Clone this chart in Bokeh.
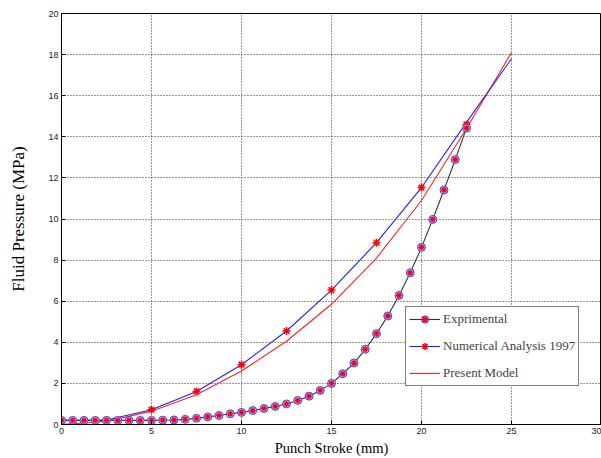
from bokeh.plotting import figure
from bokeh.models import Range1d, FixedTicker, Legend, LegendItem
from bokeh.embed import file_html
from bokeh.resources import INLINE

# Experimental data
exp_x = [0.0, 0.625, 1.25, 1.875, 2.5, 3.125, 3.75, 4.375, 5.0, 5.625, 6.25, 6.875,
         7.5, 8.125, 8.75, 9.375, 10.0, 10.625, 11.25, 11.875, 12.5, 13.125, 13.75,
         14.375, 15.0, 15.625, 16.25, 16.875, 17.5, 18.125, 18.75, 19.375, 20.0,
         20.625, 21.25, 21.875, 22.5]
exp_y = [0.20, 0.20, 0.20, 0.20, 0.20, 0.20, 0.20, 0.20, 0.20, 0.21, 0.22, 0.25,
         0.30, 0.37, 0.44, 0.52, 0.59, 0.68, 0.78, 0.88, 1.00, 1.17, 1.38,
         1.66, 2.00, 2.47, 2.99, 3.66, 4.42, 5.28, 6.28, 7.38, 8.62,
         9.98, 11.41, 12.89, 14.42]

# Numerical Analysis 1997 (markers) and its curve
num_x = [0.0, 2.5, 5.0, 7.5, 10.0, 12.5, 15.0, 17.5, 20.0, 22.5]
num_y = [0.20, 0.22, 0.72, 1.61, 2.91, 4.55, 6.54, 8.85, 11.53, 14.6]
num_curve_x = [0.0, 2.5, 5.0, 7.5, 10.0, 12.5, 15.0, 17.5, 20.0, 22.5, 25.0]
num_curve_y = [0.20, 0.22, 0.72, 1.61, 2.91, 4.55, 6.54, 8.85, 11.53, 14.7, 17.8]

# Present Model
mod_x = [0.0, 2.5, 5.0, 7.5, 10.0, 12.5, 15.0, 17.5, 20.0, 22.5, 25.0]
mod_y = [0.0, 0.15, 0.65, 1.45, 2.6, 4.05, 5.85, 8.1, 10.9, 14.4, 18.1]

x_ticks = [0, 5, 10, 15, 20, 25, 30]
y_ticks = [0, 2, 4, 6, 8, 10, 12, 14, 16, 18, 20]

p = figure(width=601, height=458, x_range=Range1d(0, 30), y_range=Range1d(0, 20),
           output_backend="svg", toolbar_location=None,
           min_border_left=61, min_border_right=0, min_border_top=13,
           min_border_bottom=34)
p.background_fill_color = "white"
p.border_fill_color = "white"
p.outline_line_color = "black"
p.outline_line_width = 1

p.xaxis.ticker = FixedTicker(ticks=x_ticks)
p.yaxis.ticker = FixedTicker(ticks=y_ticks)
for ax in (p.xaxis, p.yaxis):
    ax.axis_line_color = "black"
    ax.major_tick_in = 4
    ax.major_tick_out = 0
    ax.minor_tick_line_color = None
    ax.major_tick_line_color = "black"
    ax.major_label_text_font = "Liberation Sans"
    ax.major_label_text_font_size = "9px"
    ax.major_label_text_color = "#222222"
    ax.major_label_standoff = 3
    ax.axis_label_text_font = "Liberation Serif"
    ax.axis_label_text_font_style = "normal"
    ax.axis_label_text_color = "black"

p.xaxis.axis_label = "Punch Stroke (mm)"
p.xaxis.axis_label_text_font_size = "14.5px"
p.xaxis.axis_label_standoff = 3
p.yaxis.axis_label = "Fluid Pressure (MPa)"
p.yaxis.axis_label_text_font_size = "17px"
p.yaxis.axis_label_standoff = 17

p.grid.grid_line_color = "black"
p.grid.grid_line_dash = "1 2"
p.grid.grid_line_alpha = 0.8

# Present model (red)
r_mod = p.line(mod_x, mod_y, line_color="#ff2020", line_width=1.1)
# Numerical (blue curve + red asterisks)
r_num_line = p.line(num_curve_x, num_curve_y, line_color="#2020ff", line_width=1.1)
r_num_mark = p.scatter(num_x, num_y, marker="asterisk", size=8, line_color="#ff0000",
                       line_width=1.5)
# Experimental
r_exp_line = p.line(exp_x, exp_y, line_color="#333333", line_width=1.1)
r_exp_circ = p.scatter(exp_x, exp_y, marker="circle", size=8, line_color="#4040ff",
                       line_width=1.0, fill_color="#bdb4ff")
r_exp_star = p.scatter(exp_x, exp_y, marker="asterisk", size=6, line_color="#ff0000",
                       line_width=1.3)

legend = Legend(items=[
    LegendItem(label="Exprimental", renderers=[r_exp_line, r_exp_circ, r_exp_star]),
    LegendItem(label="Numerical Analysis 1997", renderers=[r_num_line, r_num_mark]),
    LegendItem(label="Present Model", renderers=[r_mod]),
], location=(344, 38))
legend.label_text_font = "Liberation Serif"
legend.label_text_font_size = "13px"
legend.border_line_color = "black"
legend.border_line_width = 1
legend.background_fill_color = "white"
legend.background_fill_alpha = 1
legend.glyph_width = 31
legend.glyph_height = 18
legend.spacing = 9
legend.padding = 3
legend.margin = 0
legend.label_standoff = 3
legend.label_height = 18
p.add_layout(legend)

open("out.html", "w").write(file_html(p, INLINE))
